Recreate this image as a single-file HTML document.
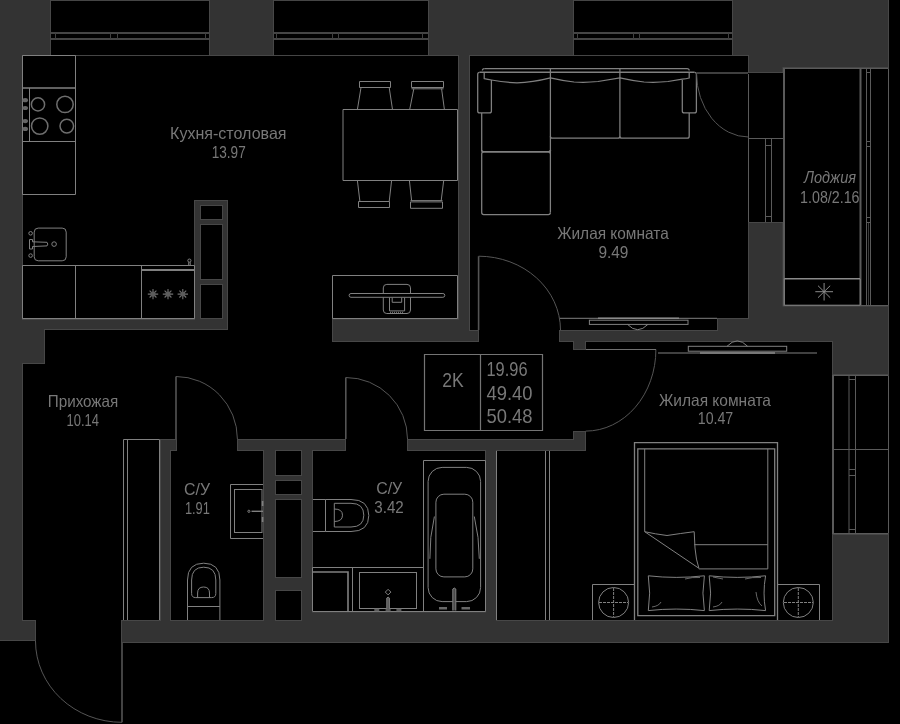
<!DOCTYPE html>
<html><head><meta charset="utf-8">
<style>
html,body{margin:0;padding:0;background:#000;}
body{width:900px;height:724px;overflow:hidden;font-family:"Liberation Sans",sans-serif;}
svg{display:block}
.l{fill:none;stroke:#808080;stroke-width:1}
.d{fill:none;stroke:#5a5a5a;stroke-width:1}
.t{fill:#787878;opacity:.999;font-family:"Liberation Sans",sans-serif;text-anchor:middle}
</style></head><body>
<svg width="900" height="724" viewBox="0 0 900 724">
<defs>
<mask id="wm" maskUnits="userSpaceOnUse" x="-10" y="-10" width="920" height="744">
<rect fill="#fff" x="-10" y="-10" width="899" height="653"/>
<g fill="#000">
<rect x="51" y="-10" width="158" height="66"/>
<rect x="274" y="-10" width="154" height="66"/>
<rect x="574" y="-10" width="158" height="66"/>
<rect x="23" y="56" width="435" height="263"/>
<rect x="228" y="318" width="230" height="13"/>
<rect x="45" y="330" width="413" height="35"/>
<rect x="23" y="364" width="563" height="75"/>
<rect x="458" y="342" width="128" height="23"/>
<rect x="479" y="330" width="80" height="13"/>
<rect x="23" y="438" width="137" height="182"/>
<rect x="36" y="619" width="85" height="31"/>
<rect x="-10" y="641" width="47" height="9"/>
<rect x="171" y="451" width="92" height="169"/>
<rect x="177" y="438" width="60" height="14"/>
<rect x="276" y="451" width="25" height="24"/>
<rect x="276" y="481" width="25" height="13"/>
<rect x="276" y="500" width="25" height="77"/>
<rect x="276" y="591" width="25" height="29"/>
<rect x="313" y="451" width="172" height="160.5"/>
<rect x="346" y="438" width="61" height="14"/>
<rect x="586" y="342" width="246" height="278"/>
<rect x="497" y="451" width="90" height="169"/>
<rect x="470" y="56" width="278" height="262"/>
<rect x="470" y="317" width="247" height="13"/>
<rect x="748" y="73" width="37" height="149"/>
<rect x="783.5" y="68" width="111.5" height="237.6"/>
<rect x="832" y="375" width="63" height="159"/>
</g>
<g fill="#fff">
<rect x="573" y="342" width="13" height="8"/>
<rect x="573" y="431" width="13" height="8"/>
<rect x="332" y="318.5" width="127" height="23.5"/>
<rect x="160" y="439" width="17" height="12"/>
<rect x="194" y="200" width="34" height="130"/>
</g>
<g fill="#000">
<rect x="201" y="206" width="21" height="13"/>
<rect x="201" y="225" width="21" height="54"/>
<rect x="201" y="285" width="21" height="33"/>
</g>
</mask>
<filter id="edge" filterUnits="userSpaceOnUse" x="-10" y="-10" width="920" height="744" color-interpolation-filters="sRGB">
<feMorphology in="SourceAlpha" operator="erode" radius="0.6" result="er"/>
<feComposite in="SourceAlpha" in2="er" operator="out" result="ring"/>
<feFlood flood-color="#474747"/>
<feComposite in2="ring" operator="in" result="col"/>
<feMerge><feMergeNode in="SourceGraphic"/><feMergeNode in="col"/></feMerge>
</filter>
<filter id="nf" x="-5%" y="-5%" width="110%" height="110%"><feOffset dx="0" dy="0"/></filter>
</defs>
<rect fill="#000" x="0" y="0" width="900" height="724"/>
<g filter="url(#edge)"><rect x="-10" y="-10" width="920" height="744" fill="#333" mask="url(#wm)"/></g>
<!-- windows -->
<g fill="none" stroke="#454545" stroke-width="1">
<path d="M51,0.5H209M274,0.5H428M574,0.5H732M51,55.5H209M274,55.5H428M574,55.5H732"/>
<path d="M51,33H209M51,39H209M274,33H428M274,39H428M574,33H732M574,39H732" stroke-width="2"/>
<path d="M55.5,33V39M110.5,33V39M117.5,33V39M205.5,33V39M276.5,33V39M332.5,33V39M338.5,33V39M422.5,33V39M577.5,33V39M633.5,33V39M639.5,33V39M728.5,33V39" stroke="#404040"/>
</g>
<g class="d" stroke="#4a4a4a" stroke-width="1">
<!-- loggia -->
<path d="M784,68V306" stroke-width="2"/>
<path d="M784,68.5H888.5V305.5H784"/>
<path d="M860.5,68V306" stroke-width="2"/>
<path d="M866.5,68V306M870.5,68V306M866,72.5H871M866,141.5H871M866,146.5H871M866,217.5H871M866,222.5H871"/>
<path d="M868.5,223V305" stroke="#3a3a3a"/>
<!-- loggia door glazing -->
<path d="M748.5,74V222M765.5,138V222M771.5,138V222M748,138.5H784M765,145.5H772M765,216.5H772"/>
<!-- bedroom window -->
<path d="M833,375.5H888.5V533.5H833"/>
<path d="M833,375V534" stroke-width="2"/>
<path d="M849,375V534M855.5,375V534M833,449.5H888M849,379.5H855M849,469.5H855M849,475.5H855M849,529.5H855"/>
</g>
<g class="l">
<!-- kitchen cabinets -->
<path d="M22.5,55.5H75.5V194.5H22.5Z"/>
<path d="M22,88H76" stroke-width="1.6"/>
<path d="M22,141.5H76M29.5,88V141.5"/>
<g stroke="#6e6e6e" stroke-width="1.5"><circle cx="38" cy="104.4" r="6.6"/><circle cx="65" cy="104.4" r="8.2"/>
<circle cx="39.7" cy="126.1" r="8.2"/><circle cx="66.8" cy="126.1" r="6.8"/></g>
<!-- counter -->
<path d="M22.5,265.5H194.5V318.5H22.5Z"/>
<path d="M75.5,265.5V318.5M141.5,265.5V318.5"/>
<path d="M141.5,270H194.5" stroke-width="2"/>
<!-- sink -->
<rect x="34.2" y="228.1" width="32" height="32.7" rx="4"/>
<circle cx="30.6" cy="233.3" r="1.8"/><circle cx="30.6" cy="255.6" r="1.8"/>
<circle cx="54.1" cy="244.1" r="2.3"/>
<path d="M29.5,239.5H32.5V241.8L47,242.3Q48.6,244.1 47,245.9L32.5,246.5V249H29.5Z"/>
<!-- tap symbol -->
<circle cx="189.4" cy="260.6" r="1.6"/><path d="M188.7,262.2V265.5M190.2,262.2V265.5"/>
<!-- table -->
<path d="M343,109.5H457.5V180.5H343Z"/>
<!-- chairs top -->
<path d="M359.5,81.5H390.5V87.5H359.5ZM361,87.5L357.4,109.5M389.2,87.5L392.5,109.5"/>
<path d="M411.5,81.5H443.5V87.5H411.5ZM411.5,88.8H443.5M413.8,88.8L409.7,109.5M441.6,88.8L444.4,109.5"/>
<!-- chairs bottom -->
<path d="M358.5,201.5H389.5V207.5H358.5ZM357.4,180.5L359.9,201.5M391.6,180.5L389.2,201.5"/>
<path d="M410.5,201.9H442.5V208.3H410.5ZM410.5,200.6H442.5M409.4,180.5L411.6,200.6M443.7,180.5L441.2,200.6"/>
<!-- kitchen tv console -->
<path d="M332.5,275.5H457.5V318.5H332.5Z"/>
<rect x="383.3" y="284.4" width="27.2" height="29.1" rx="3.5"/>
<rect x="349.1" y="293.5" width="95.7" height="3.8" rx="1.9" fill="#000"/>
<path d="M389.5,297.5V310.9H404.6V297.5M392.2,297.5V302.3H401.7V297.5"/>
<path d="M390,312.3H404" stroke-dasharray="1 1"/>
</g>
<!-- stars -->
<g stroke="#707070" stroke-width="1.1" fill="none">
<path d="M-5.2,0H5.2M0,-5.2V5.2M-3.4,-3.4L3.4,3.4M-3.4,3.4L3.4,-3.4" transform="translate(153,294.1)"/>
<path d="M-5.2,0H5.2M0,-5.2V5.2M-3.4,-3.4L3.4,3.4M-3.4,3.4L3.4,-3.4" transform="translate(168,294.1)"/>
<path d="M-5.2,0H5.2M0,-5.2V5.2M-3.4,-3.4L3.4,3.4M-3.4,3.4L3.4,-3.4" transform="translate(182.8,294.1)"/>
</g>
<g fill="#5c5c5c"><circle cx="153" cy="294.1" r="2.6"/><circle cx="168" cy="294.1" r="2.6"/><circle cx="182.8" cy="294.1" r="2.4"/></g>
<!-- stove knobs -->
<g fill="#666"><ellipse cx="25.2" cy="100.2" rx="2.8" ry="2.1"/><ellipse cx="25.2" cy="108" rx="2.8" ry="2.1"/><ellipse cx="25.2" cy="121.1" rx="2.8" ry="2.1"/><ellipse cx="25.2" cy="128.9" rx="2.8" ry="2.1"/></g>
<g class="l">
<!-- sofa -->
<g stroke-width="1.25" stroke="#808080">
<path d="M484.4,68.6H687Q689.2,68.6 689.2,70.6"/>
<path d="M482.4,70.6Q482.4,68.6 484.4,68.6"/>
<path d="M479.6,72.3H694.5" stroke-width="1.6"/>
<path d="M479.6,72.3Q477.7,72.3 477.7,74.3V110.9Q477.7,112.9 479.7,112.9H489.4Q491.4,112.9 491.4,110.9V80"/>
<path d="M694.5,72.3Q696.4,72.3 696.4,74.3V110.9Q696.4,112.9 694.4,112.9H684.3Q682.3,112.9 682.3,110.9V80"/>
<path d="M484.2,72.3V78.6Q488,79.3 491.4,80Q505,82.5 517,82.8Q532,82.5 550.4,77.8Q562,80.5 574,82Q586,82.8 598,81.5L619.9,77.8Q632,80.5 644,82Q656,82.8 668,81.5L682.3,79.2Q686,78.8 689.2,78V72.3"/>
<path d="M481.7,112.9V150"/>
<path d="M689.2,112.9V136.2Q689.2,138.2 687.2,138.2H621.9Q619.9,138.2 619.9,136.2"/>
<path d="M550.4,68.6V212.5M619.9,68.6V136.2"/>
<path d="M619.9,136.2Q619.9,138.2 617.9,138.2H552.4Q550.4,138.2 550.4,136.2"/>
<path d="M481.7,150Q481.7,151.9 483.7,151.9H548.4Q550.4,151.9 550.4,150" stroke-width="1.6"/>
<path d="M481.7,153.9Q481.7,151.9 483.7,151.9M550.4,153.9Q550.4,151.9 548.4,151.9M481.7,153.9V212.5Q481.7,214.5 483.7,214.5H548.4Q550.4,214.5 550.4,212.5"/>
</g>
<!-- living TV -->
<path d="M559.5,318.3H717"/>
<path d="M598,318.3H679" stroke-width="1.6" stroke="#8a8a8a"/>
<rect x="589.4" y="320.2" width="98.6" height="4.2"/>
<path d="M627.5,324.4Q637.7,335 647.9,324.4"/>
<!-- bedroom TV -->
<path d="M658,353H817"/>
<path d="M700,353H775" stroke-width="1.6" stroke="#8a8a8a"/>
<rect x="688.3" y="346.3" width="98.4" height="4.9"/>
<path d="M727,346.3Q737.3,335.5 747.6,346.3"/>
<!-- wardrobe hallway -->
<path d="M123.5,620V439.5H159.5V620M127.5,439.5V620"/>
<!-- wardrobe bedroom -->
<path d="M545.5,451V620M549.5,451V620M496.5,451V620"/>
<!-- 2K box -->
<path d="M424.5,354.5H542.5V430.5H424.5ZM480.5,354.5V430.5" stroke="#747474" stroke-width="1.2"/>
</g>
<g fill="none" stroke="#555" stroke-width="1">
<!-- door arcs -->
<path d="M478.6,256.2A81.9,73.9 0 0 1 560.5,330.1"/>
<path d="M696.5,73A51.9,64 0 0 0 748.4,137"/>
<path d="M655.9,349.5A70.2,81.6 0 0 1 585.7,431.1"/>
<path d="M176,376.5A61.4,62.5 0 0 1 237.4,439"/>
<path d="M345.8,377.5A61.7,61.5 0 0 1 407.5,439"/>
<path d="M122,722.3A86.5,81.3 0 0 1 35.5,641"/>
</g>
<g fill="none" stroke="#545454" stroke-width="1.6">
<!-- door leafs -->
<path d="M478.6,330V256.2"/>
<path d="M748,73H696.5"/>
<path d="M176,439V376.5"/>
<path d="M345.8,439V377.5"/>
<path d="M122,643V722.3"/>
</g>
<path d="M586,349.5H656" fill="none" stroke="#707070" stroke-width="1"/>
<g class="l">
<!-- bed -->
<path d="M634.5,620V442.7H777.5V620" stroke-width="1.3"/>
<path d="M637.8,615.6V448.9H774.7V615.6Z" stroke-width="1.3"/>
<path d="M644.7,448.9V531.7M767.8,448.9V568.9H698.9M694.2,544.7H767.8"/>
<path d="M644.7,531.7Q655,534 667,535.5Q680,533.5 694.2,531.7L695,548Q696,560 698.9,568.3L644.7,531.7"/>
<!-- pillows -->
<path d="M648.3,575.8Q676,579 704.4,575.8Q701.5,593 704.4,610.6Q676,607.5 648.3,610.6Q651,593 648.3,575.8Z"/>
<path d="M709.2,575.8Q737,579 765.6,575.8Q762.5,593 765.6,610.6Q737,607.5 709.2,610.6Q712,593 709.2,575.8Z"/>
<path d="M685,579Q692,577 700,577.5M652,607Q659,606 661,602M723,579Q718,578 713,577M745,579Q752,577 761,577.5M713,607Q720,606 722,602M756,592Q757,602 762,606" stroke-width="0.8"/>
<!-- nightstands -->
<path d="M592.5,620V584.5H634.5M777.5,584.5H819.5V620"/>
<circle cx="613.6" cy="602.5" r="15"/><circle cx="798.3" cy="602.5" r="15"/>
<path d="M613.6,588V617M599,602.5H628M798.3,588V617M784,602.5H813" stroke-dasharray="3 1"/>
<!-- bathtub -->
<path d="M423.5,611V460.5H485.5V611.5"/>
<rect x="428.1" y="467.4" width="52.5" height="134.2" rx="14"/>
<rect x="435.9" y="494.2" width="36.9" height="82.7" rx="8"/>
<path d="M434.4,516.5Q429.5,537 429.9,558.8M474.3,516.5Q479.2,537 479.3,558.8"/>
<path d="M452.8,610.5V589Q454.3,587 455.8,589V610.5" fill="#4a4a4a"/>
<path d="M439,608.3H447M461.5,608.3H470" stroke-width="2.4" stroke="#666"/>
<!-- bath2 counter -->
<path d="M312.5,567.5H423.5M352.5,567.5V611M312.5,567.5V611"/><path d="M312.5,572H348V611" stroke-width="1.6"/>
<path d="M312.5,611.5H485.5"/>
<rect x="359.5" y="572.5" width="57" height="36"/>
<path d="M388.1,589.3L390.9,592.1L388.1,594.9L385.3,592.1Z"/>
<path d="M386.8,611V598Q388.1,596.3 389.4,598V611" fill="#555"/>
<path d="M374.3,610H379.3M385.6,610H390.6M396.4,610H401.4" stroke-width="2.4" stroke="#5a5a5a"/>
<!-- toilet bath2 -->
<path d="M313,499.5H325.5V531.5H313"/>
<path d="M325.5,499.5H351Q368.8,499.5 368.8,515.5Q368.8,531.5 351,531.5H325.5"/>
<path d="M334.3,503.3H351Q363.8,503.3 363.8,515.2Q363.8,527 351,527H334.3Z"/>
<path d="M334.3,509Q342.5,509 342.5,515.2Q342.5,521.5 334.3,521.5"/>
<!-- sink bath1 -->
<path d="M263,484.5H230.5V538.5H263"/>
<rect x="234.5" y="489.5" width="27.5" height="43"/>
<path d="M251.5,511.3H263" stroke-width="1.4"/><circle cx="248.9" cy="511.3" r="1.1"/>
<path d="M262.6,501V506M262.6,517V522" stroke-width="1.6"/>
<!-- toilet bath1 -->
<path d="M187.5,620V580Q187.5,563.2 203.7,563.2Q219.9,563.2 219.9,580V620M187.5,606.5H219.9"/>
<path d="M191.6,580Q191.6,567.2 203.7,567.2Q215.8,567.2 215.8,580V593.5Q215.8,597.6 211.7,597.6H195.7Q191.6,597.6 191.6,593.5Z"/>
<path d="M197.6,597.6V593Q197.6,587 203.6,587Q209.5,587 209.5,593V597.6"/>
<!-- AC -->
<path d="M784.3,278.8H860" stroke-width="1.6" stroke="#8a8a8a"/>
<path d="M784.3,305.2H860M784.3,278.8V305.2M860.3,278.8V305.2"/>
</g>
<g stroke="#8a8a8a" stroke-width="1" fill="none">
<path d="M815.3,291.7H833M824.1,283V300.5M818,285.7L830.2,297.7M818,297.7L830.2,285.7"/>
</g>
<g class="t" font-size="16.5" filter="url(#nf)">
<text x="228.3" y="138.8" textLength="116.5" lengthAdjust="spacingAndGlyphs">Кухня-столовая</text>
<text x="228.7" y="157.6" textLength="34" lengthAdjust="spacingAndGlyphs">13.97</text>
<text x="613" y="238.8" textLength="111.5" lengthAdjust="spacingAndGlyphs">Жилая комната</text>
<text x="613.4" y="257.5" textLength="30" lengthAdjust="spacingAndGlyphs">9.49</text>
<text x="715" y="405.8" textLength="112" lengthAdjust="spacingAndGlyphs">Жилая комната</text>
<text x="715.5" y="424" textLength="35.5" lengthAdjust="spacingAndGlyphs">10.47</text>
<text x="83" y="407.3" textLength="70.5" lengthAdjust="spacingAndGlyphs">Прихожая</text>
<text x="82.8" y="426" textLength="32.5" lengthAdjust="spacingAndGlyphs">10.14</text>
<text x="197.1" y="494.9" textLength="26" lengthAdjust="spacingAndGlyphs">С/У</text>
<text x="197.4" y="514" textLength="25" lengthAdjust="spacingAndGlyphs">1.91</text>
<text x="389.2" y="493.9" textLength="26" lengthAdjust="spacingAndGlyphs">С/У</text>
<text x="389" y="513.2" textLength="29.5" lengthAdjust="spacingAndGlyphs">3.42</text>
<text x="830" y="183.2" textLength="52" lengthAdjust="spacingAndGlyphs" font-style="italic">Лоджия</text>
<text x="829.8" y="202.5" textLength="59.5" lengthAdjust="spacingAndGlyphs">1.08/2.16</text>
</g>
<g class="t" font-size="21" filter="url(#nf)">
<text x="453" y="386.6" textLength="21.5" lengthAdjust="spacingAndGlyphs">2K</text>
<text x="507" y="375.8" textLength="41" lengthAdjust="spacingAndGlyphs">19.96</text>
<text x="509.5" y="399.5" textLength="46" lengthAdjust="spacingAndGlyphs">49.40</text>
<text x="509.5" y="423" textLength="46" lengthAdjust="spacingAndGlyphs">50.48</text>
</g>
</svg></body></html>
